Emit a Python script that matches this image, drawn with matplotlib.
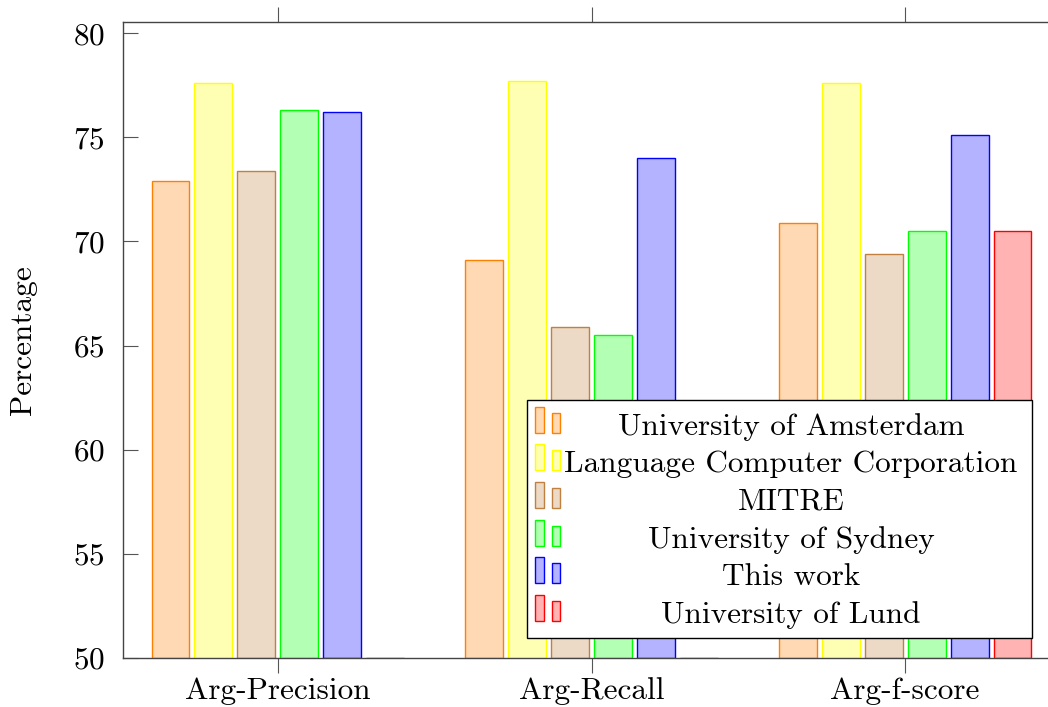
import numpy as np
import matplotlib
matplotlib.use("Agg")
import matplotlib.pyplot as plt
from matplotlib.patches import Rectangle

# ============================================================
#   DATA
# ============================================================
metrics = ["Arg-Precision", "Arg-Recall", "Arg-f-score"]
teams = ["University of Amsterdam", "Language Computer Corporation", "MITRE",
         "University of Sydney", "This work", "University of Lund"]

amsterdam = [72.9, 69.1, 70.9]
lcc = [77.6, 77.7, 77.6]
mitre = [73.4, 65.9, 69.4]
sydney = [76.3, 65.5, 70.5]
this_work = [76.2, 74.0, 75.1]
lund = [0.0, 0.0, 70.5]

series = [amsterdam, lcc, mitre, sydney, this_work, lund]

# pgfplots style colours: edge = color, fill = color!30
edge_colors = [(1, 0.5, 0), (1, 1, 0), (0.75, 0.5, 0.25), (0, 1, 0), (0, 0, 1), (1, 0, 0)]


def tint(c, f=0.3):
    return tuple(f * v + (1 - f) for v in c)


plt.rcParams["font.family"] = "serif"
plt.rcParams["font.serif"] = ["cmr10", "DejaVu Serif"]
plt.rcParams["axes.formatter.use_mathtext"] = True

YMIN, YMAX = 50, 80.53
FS = 22.5

fig = plt.figure(figsize=(10.48, 7.07), dpi=100)
# axes runs a little past the right edge of the picture, like the original
ax = fig.add_axes([123 / 1048, 1 - 658 / 707, 937 / 1048, 636 / 707])

x = np.arange(len(metrics))
width = 0.121
step = 0.137

for i, vals in enumerate(series):
    vals = np.array(vals)
    heights = np.clip(vals - YMIN, 0, None)
    ax.bar(x + (i - 2.5) * step, heights, width, bottom=YMIN,
           color=tint(edge_colors[i]), edgecolor=edge_colors[i], linewidth=1,
           zorder=2)

ax.set_ylim(YMIN, YMAX)
ax.set_xlim(-0.494, 2.494)
ax.set_xticks(x)
ax.set_xticklabels(metrics)
ax.set_yticks(range(50, 81, 5))
ax.tick_params(axis="x", direction="out", length=11, width=0.8, color="#555555",
               top=True, bottom=True, labelsize=FS, pad=3)
ax.tick_params(axis="y", direction="in", length=11, width=0.8, color="#555555",
               left=True, right=False, labelsize=FS, pad=13)
ax.set_ylabel("Percentage", fontsize=FS, labelpad=26)
for s in ax.spines.values():
    s.set_color("#444444")
    s.set_linewidth(1)
    s.set_zorder(5)

# ---- legend box (pgfplots style: centred text, two small bars per entry)
lx0, lx1 = 404 / 937, 909 / 937
ly0, ly1 = 0.031, 0.406
ax.add_patch(Rectangle((lx0, ly0), lx1 - lx0, ly1 - ly0, transform=ax.transAxes,
                       facecolor="white", edgecolor="black", linewidth=1, zorder=10))
px = 1 / 937
py = 1 / 636
for i, name in enumerate(teams):
    yc = ly1 - (24 + 37.6 * i) * py
    yb = yc - 9 * py
    ax.add_patch(Rectangle((lx0 + 8 * px, yb), 9 * px, 26 * py, transform=ax.transAxes,
                           facecolor=tint(edge_colors[i]), edgecolor=edge_colors[i],
                           linewidth=1, zorder=11))
    ax.add_patch(Rectangle((lx0 + 25 * px, yb), 8 * px, 20 * py, transform=ax.transAxes,
                           facecolor=tint(edge_colors[i]), edgecolor=edge_colors[i],
                           linewidth=1, zorder=11))
    ax.text(668 / 937, yc - 3 * py, name, transform=ax.transAxes, ha="center", va="center",
            fontsize=FS, zorder=12)

fig.savefig("out.png", dpi=100)
